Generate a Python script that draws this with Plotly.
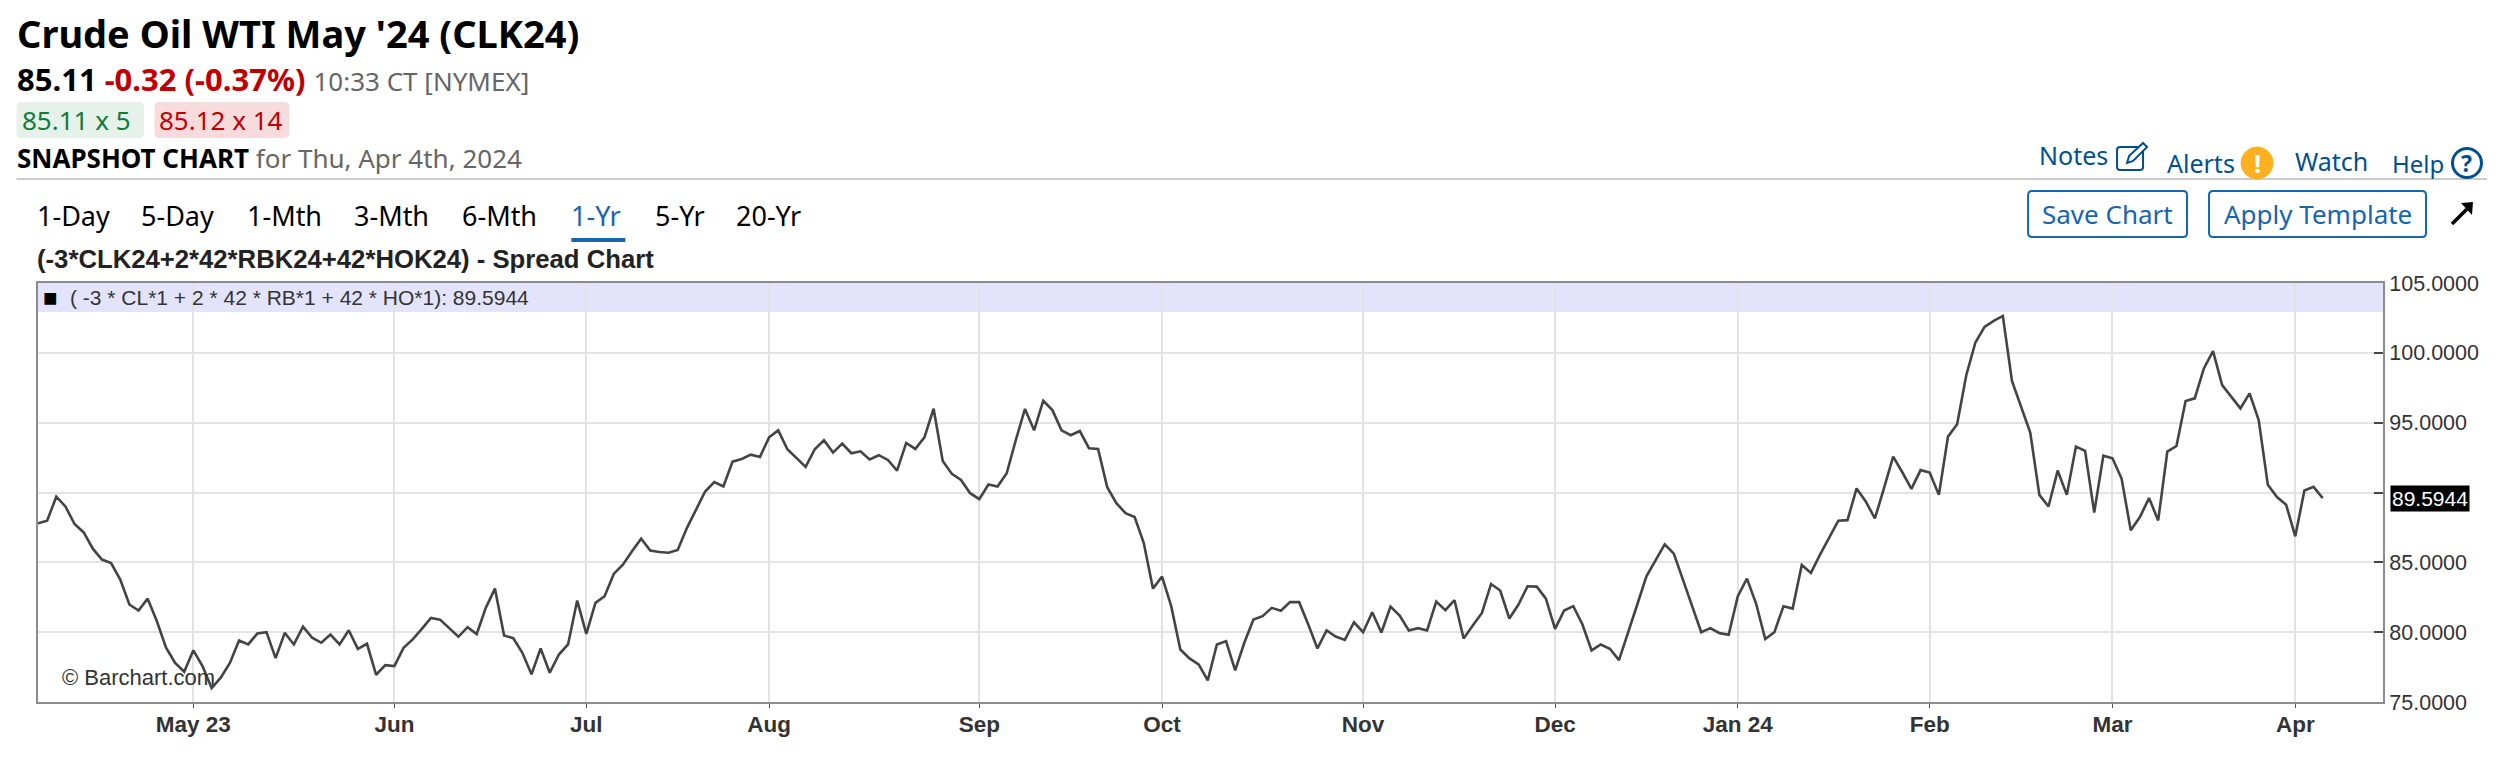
import plotly.graph_objects as go

spread_values = [
    87.8, 87.98, 89.7, 89.0, 87.74, 87.14, 85.98, 85.2, 84.95, 83.76, 81.98, 81.55, 82.4, 80.8, 78.9, 77.8, 77.17,
    78.7, 77.57, 76.0, 76.74, 77.8, 79.4, 79.12, 79.9, 80.0, 78.14, 79.95, 79.12, 80.4, 79.6, 79.24, 79.83, 79.12,
    80.14, 78.8, 79.17, 76.95, 77.64,
    77.57, 78.88, 79.48, 80.24, 81.02, 80.9, 80.31, 79.67, 80.36, 79.86, 81.74, 83.12, 79.76, 79.57, 78.52, 76.98,
    78.83, 77.1, 78.4, 79.12, 82.26,
    79.88, 82.1, 82.57, 84.17, 84.83, 85.79, 86.69, 85.85, 85.74, 85.69, 85.88, 87.45, 88.76, 90.07, 90.74, 90.43,
    92.21, 92.4, 92.71, 92.55,
    93.95, 94.45, 93.1, 92.45, 91.83, 93.1, 93.74, 92.86, 93.5, 92.81, 92.95, 92.36, 92.67, 92.33, 91.57, 93.55,
    93.12, 93.95, 96.0, 92.26, 91.33, 90.9, 89.95,
    89.52, 90.57, 90.43, 91.38, 93.76, 95.98, 94.45, 96.57, 95.9, 94.45, 94.1, 94.4, 93.17, 93.12, 90.38, 89.24,
    88.52, 88.24, 86.38, 83.12,
    83.98, 81.86, 78.76, 78.12, 77.69, 76.55, 79.12, 79.36, 77.26, 79.24, 80.9, 81.15, 81.74, 81.53, 82.15, 82.15,
    80.55, 78.83, 80.12, 79.69, 79.45, 80.71,
    80.0, 81.43, 79.98, 81.83, 81.19, 80.12, 80.29, 80.12, 82.19, 81.57, 82.29, 79.55, 80.48, 81.38, 83.45, 82.98,
    80.98, 81.98, 83.29, 83.26, 82.4,
    80.24, 81.55, 81.86, 80.55, 78.69, 79.12, 78.81, 78.0, 80.07, 81.98, 84.0, 85.12, 86.29, 85.62, 83.76, 81.86,
    80.0, 80.29, 79.93, 79.81,
    82.57, 83.83, 82.05, 79.5, 80.0, 81.86, 81.69, 84.81, 84.24, 85.55, 86.74, 87.98, 88.02, 90.29, 89.36, 88.14,
    90.31, 92.57, 91.45, 90.26, 91.6,
    91.43, 89.83, 94.0, 94.88, 98.4, 100.74, 101.86, 102.29, 102.64, 97.98, 96.14, 94.29, 89.83, 89.0, 91.57, 89.83,
    93.29, 92.98, 88.57, 92.64,
    92.45, 90.98, 87.29, 88.24, 89.6, 88.0, 92.93, 93.33, 96.55, 96.74, 98.88, 100.12, 97.69, 96.86, 96.02, 97.1,
    95.19, 90.55, 89.67, 89.12,
    86.86, 90.14, 90.4, 89.5944,
]
session_index = list(range(len(spread_values)))

month_labels = ["May 23", "Jun", "Jul", "Aug", "Sep", "Oct", "Nov", "Dec", "Jan 24", "Feb", "Mar", "Apr"]
month_start_index = [17, 39, 60, 80, 103, 123, 145, 166, 186, 207, 227, 247]
price_ticks = [75, 80, 85, 90, 95, 100, 105]
price_labels = ["75.0000", "80.0000", "85.0000", "", "95.0000", "100.0000", "105.0000"]
last_label = "89.5944"
period_tabs = ["1-Day", "5-Day", "1-Mth", "3-Mth", "6-Mth", "1-Yr", "5-Yr", "20-Yr"]
period_tab_x = [36, 141, 247, 354, 462, 571, 655, 736]

W, H = 2506, 766
L, R, T, B = 37.5, 2383, 283, 702
UI = "Noto Sans"
CH = "Liberation Sans"
LINK = "#00508f"
BTN = "#1565b0"


def px(x):
    return (x - L) / (R - L)


def py(y):
    return (B - y) / (B - T)


anns, shapes = [], []


def text(x, y, s, size, color="#000", family=UI, anchor="left"):
    anns.append(dict(xref="paper", yref="paper", x=px(x), y=py(y), text=s, showarrow=False,
                     xanchor=anchor, yanchor="middle", align=anchor,
                     font=dict(size=size, color=color, family=family), borderpad=0, borderwidth=0))


def rrect(x0, y0, x1, y1, r, fill="rgba(0,0,0,0)", line="rgba(0,0,0,0)", lw=0):
    a0, a1, b0, b1 = px(x0), px(x1), py(y0), py(y1)
    rx, ry = r / (R - L), r / (B - T)
    path = (f"M {a0+rx} {b0} L {a1-rx} {b0} Q {a1} {b0} {a1} {b0-ry} L {a1} {b1+ry} Q {a1} {b1} {a1-rx} {b1} "
            f"L {a0+rx} {b1} Q {a0} {b1} {a0} {b1+ry} L {a0} {b0-ry} Q {a0} {b0} {a0+rx} {b0} Z")
    shapes.append(dict(type="path", xref="paper", yref="paper", path=path, fillcolor=fill,
                       line=dict(color=line, width=lw), layer="above"))


def poly(points, color, width, fill="rgba(0,0,0,0)", close=False):
    p = "M " + " L ".join(f"{px(a)} {py(b)}" for a, b in points) + (" Z" if close else "")
    shapes.append(dict(type="path", xref="paper", yref="paper", path=p, fillcolor=fill,
                       line=dict(color=color, width=width), layer="above"))


def circle(cx, cy, r, fill, line, lw):
    shapes.append(dict(type="circle", xref="paper", yref="paper", x0=px(cx - r), x1=px(cx + r),
                       y0=py(cy + r), y1=py(cy - r), fillcolor=fill, line=dict(color=line, width=lw), layer="above"))


# header
text(16, 33, "<b>Crude Oil WTI May '24 (CLK24)</b>", 38)
text(16, 79, "<b>85.11</b> <span style='color:#c00000'><b>-0.32 (-0.37%)</b></span> "
             "<span style='color:#666666;font-size:26px'>10:33 CT [NYMEX]</span>", 31)
rrect(16, 102, 143.5, 138, 5, fill="#e6f1ea")
rrect(154, 102, 289, 138, 5, fill="#f8dbdd")
text(21, 120, "85.11 x 5", 26, "#137a3a")
text(159, 120, "85.12 x 14", 26, "#c00000")
text(16, 158, "<b>SNAPSHOT CHART</b> <span style='color:#666666'>for Thu, Apr 4th, 2024</span>", 26)
poly([(16, 179), (2487, 179)], "#cccccc", 2)

# tabs
for lab, x in zip(period_tabs, period_tab_x):
    text(x, 216, lab, 27, BTN if lab == "1-Yr" else "#000")
poly([(571, 240), (625, 240)], BTN, 4)
text(36, 259, "<b>(-3*CLK24+2*42*RBK24+42*HOK24) - Spread Chart</b>", 25.7, "#222", CH)

# top right links
text(2039, 155, "Notes", 25, LINK)
rrect(2117, 147, 2143, 170, 3, line=LINK, lw=2)
poly([(2127, 163), (2129, 156), (2143, 143), (2147, 147), (2133, 161)], LINK, 2, fill="#ffffff", close=True)
text(2167, 163, "Alerts", 25, LINK)
circle(2257, 163, 16, "#ffb01f", "#ffb01f", 1)
text(2257, 163, "<b>!</b>", 25, "#ffffff", UI, "center")
text(2295, 161, "Watch", 25, LINK)
text(2392, 163, "Help", 24, LINK)
circle(2467, 163, 14.5, "#ffffff", LINK, 3)
text(2467, 163, "<b>?</b>", 23, LINK, UI, "center")

# buttons
rrect(2028, 191, 2187, 237, 4, fill="#ffffff", line=BTN, lw=2)
text(2107.5, 214, "Save Chart", 26, BTN, UI, "center")
rrect(2209, 191, 2426, 237, 4, fill="#ffffff", line=BTN, lw=2)
text(2317.5, 214, "Apply Template", 26, BTN, UI, "center")
poly([(2452, 224), (2471, 205)], "#000", 3.5)
poly([(2461, 203), (2473, 202), (2472, 215)], "#000", 0, fill="#000", close=True)

# chart band and text
shapes.append(dict(type="rect", xref="paper", yref="paper", x0=0, x1=1, y0=py(312), y1=1,
                   fillcolor="#e3e4fb", line=dict(width=0), layer="below"))
text(43, 297, "■", 24, "#000", CH)
text(70, 297, "( -3 * CL*1 + 2 * 42 * RB*1 + 42 * HO*1): " + last_label, 21, "#333", CH)
text(62, 677, "© Barchart.com", 22, "#333", CH)

# last value flag
anns.append(dict(xref="paper", yref="y", x=px(2390.5), y=spread_values[-1], text=last_label, showarrow=False,
                 xanchor="left", yanchor="middle", bgcolor="#000", borderpad=1,
                 font=dict(size=21, color="#fff", family=CH)))

fig = go.Figure(go.Scatter(x=session_index, y=spread_values, mode="lines",
                           line=dict(color="#444444", width=2.6), hoverinfo="skip"))
fig.update_layout(
    width=W, height=H, autosize=False, showlegend=False,
    margin=dict(l=L, r=W - R, t=T, b=H - B, pad=0),
    paper_bgcolor="#ffffff", plot_bgcolor="rgba(0,0,0,0)",
    annotations=anns, shapes=shapes,
    xaxis=dict(range=[0, 256.6], tickmode="array", tickvals=month_start_index, ticktext=month_labels,
               showgrid=True, gridcolor="#e2e2e2", gridwidth=2, zeroline=False,
               showline=True, linecolor="#8c8c8c", linewidth=2, mirror=True,
               ticks="outside", ticklen=4, tickcolor="#555", tickwidth=1, ticklabelstandoff=-3,
               tickfont=dict(size=22.5, color="#333333", family=CH, weight=700)),
    yaxis=dict(range=[75, 105], side="right", tickmode="array", tickvals=price_ticks, ticktext=price_labels,
               showgrid=True, gridcolor="#e4e4e4", gridwidth=2, zeroline=False,
               showline=True, linecolor="#8c8c8c", linewidth=2, mirror=True,
               ticks="inside", ticklen=9, tickcolor="#444", tickwidth=2, ticklabelstandoff=0,
               tickfont=dict(size=21.5, color="#333333", family=CH)),
)
fig.write_html("out.html", config=dict(displayModeBar=False),
               post_script="document.body.style.margin='0';document.body.style.overflow='hidden';")
